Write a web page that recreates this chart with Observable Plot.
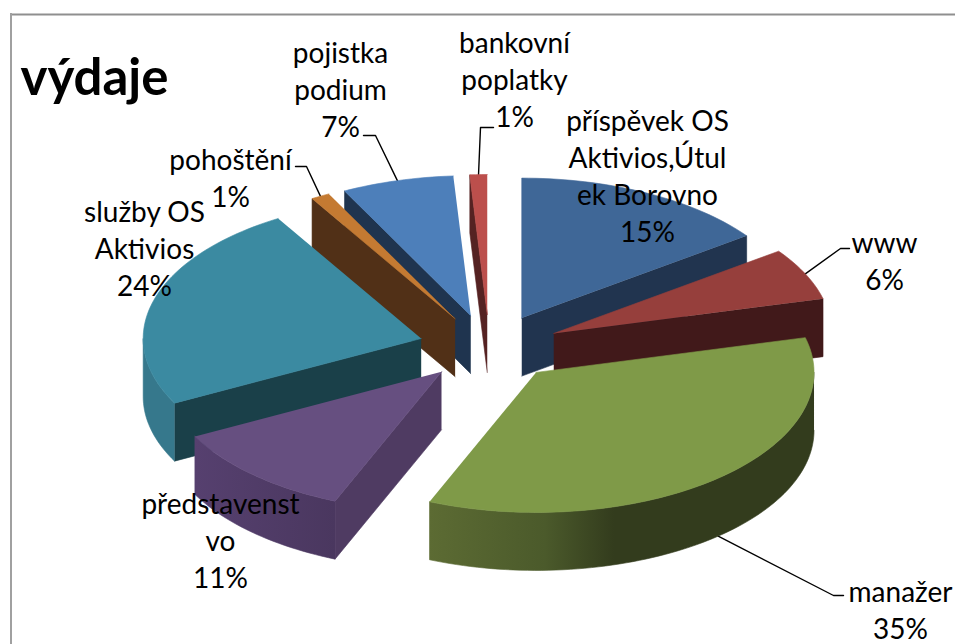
<!DOCTYPE html>
<html>
<head>
<meta charset="utf-8">
<script src="https://cdn.jsdelivr.net/npm/d3@7"></script>
<script src="https://cdn.jsdelivr.net/npm/@observablehq/plot@0.6"></script>
<style>html,body{margin:0;padding:0;background:#fff}svg{display:block}</style>
</head>
<body>
<div id="chart"></div>
<script>
// Data, clockwise from 12 o'clock
const categories = ["příspěvek OS\nAktivios,Útul\nek Borovno","www","manažer","představenst\nvo","služby OS\nAktivios","pohoštění","pojistka\npodium","bankovní\npoplatky"];
const shares = [15, 6, 35.25, 11.11, 24.03, 1.1, 6.5, 1];
// Styles
const topColors = ["#3f6797","#963f3c","#7f9a48","#664f80","#3b8aa1","#c47a32","#4d7fba","#bc4f4c"];
const wallColors = ["#21344f","#41191a","#333c1e","#4f3b62","#1a4049","#513017","#1f344f","#552222"];
const rimColors = ["#21344f","#41191a","url(#rimGreen)","url(#rimPurple)","#36788c","#513017","#1f344f","#552222"];
const drawOrder = [7, 0, 1, 6, 5, 4, 3, 2];
// Layout
const labelX = [647, 884, 900, 220, 144, 230, 340, 514];
const labelY = [174, 259, 608, 539, 247, 176, 88, 78];
const leaderElbows = [null, [[849,248],[840,248]], [[843,595],[833,595]], null, null, [[295,166],[306,166]], [[363,135],[375,135]], [[493,127],[480,127]]];
const pie = {cx: 489, cy: 347, rx: 278, ry: 140, ex: 71, ey: 33, depth: 58};
const fontFamily = "Lato, 'Noto Sans', sans-serif";

const total = d3.sum(shares);
const rad = Math.PI / 180;
let cum = 0;
const slices = shares.map((s, i) => {
  const a0 = cum / total * 360; cum += s; const a1 = cum / total * 360;
  const mid = (a0 + a1) / 2;
  return {i, a0, a1, mid,
    tipX: pie.cx + pie.ex * Math.sin(mid * rad),
    tipY: pie.cy - pie.ey * Math.cos(mid * rad)};
});
const rim = (s, a, dz = 0) => ({
  x: s.tipX + pie.rx * Math.sin(a * rad),
  y: s.tipY - pie.ry * Math.cos(a * rad) + dz
});
const arc = (s, a0, a1, dz = 0) => {
  const n = Math.max(2, Math.ceil(Math.abs(a1 - a0) / 1.5));
  return d3.range(n + 1).map(k => rim(s, a0 + (a1 - a0) * k / n, dz));
};
const polygon = (pts, color) => Plot.line(pts, {x: "x", y: "y", fill: color, stroke: color, strokeWidth: 0.6});

const marks = [
  () => {
    const defs = d3.create("svg:defs");
    const grad = (id, stops) => {
      const g = defs.append("linearGradient").attr("id", id).attr("x1", 0).attr("x2", 1).attr("y1", 0).attr("y2", 0);
      stops.forEach(([o, c]) => g.append("stop").attr("offset", o).attr("stop-color", c));
    };
    grad("rimGreen", [[0, "#5c6b33"], [0.3, "#4b5a2b"], [0.48, "#333c1d"], [1, "#333c1d"]]);
    grad("rimPurple", [[0, "#56406f"], [1, "#4a375f"]]);
    return defs.node();
  },
  Plot.ruleY([14], {x1: 10, x2: 955, stroke: "#8f8f8f", strokeWidth: 2}),
  Plot.ruleX([10.5], {y1: 13, y2: 644, stroke: "#a0a0a0", strokeWidth: 2})
];

// Leader lines lie under the slices, rising from the rim at each slice's middle
categories.forEach((c, i) => {
  if (!leaderElbows[i]) return;
  const s = slices[i];
  const front = s.mid > 90 && s.mid < 270;
  const end = rim(s, s.mid, front ? pie.depth : 0);
  const pts = [...leaderElbows[i].map(([x, y]) => ({x, y})), end];
  marks.push(Plot.line(pts, {x: "x", y: "y", stroke: "#000", strokeWidth: 1.4}));
});

// Slices, back to front: walls first, then the top face
for (const i of drawOrder) {
  const s = slices[i];
  const tip = {x: s.tipX, y: s.tipY};
  const tipLow = {x: s.tipX, y: s.tipY + pie.depth};
  const radialWall = a => [tip, rim(s, a), rim(s, a, pie.depth), tipLow];
  if (s.a1 > 0 && s.a1 < 180) marks.push(polygon(radialWall(s.a1), wallColors[i]));
  if (s.a0 > 180 && s.a0 < 360) marks.push(polygon(radialWall(s.a0), wallColors[i]));
  const from = Math.max(s.a0, 90), to = Math.min(s.a1, 270);
  if (to > from) marks.push(polygon([...arc(s, from, to), ...arc(s, to, from, pie.depth)], rimColors[i]));
  marks.push(polygon([tip, ...arc(s, s.a0, s.a1)], topColors[i]));
}

// Labels and title
const labels = categories.map((c, i) => ({text: `${c}\n${Math.round(shares[i])}%`, x: labelX[i], y: labelY[i]}));
marks.push(Plot.text(labels, {x: "x", y: "y", text: "text", fontSize: 28, lineHeight: 1.32, lineAnchor: "middle", textAnchor: "middle", fill: "#000", fontFamily}));
marks.push(Plot.text(["výdaje"], {x: 20, y: 78, text: d => d, fontSize: 51, fontWeight: 700, textAnchor: "start", lineAnchor: "middle", fill: "#000", fontFamily}));

const chart = Plot.plot({
  width: 955, height: 644,
  marginTop: 0, marginRight: 0, marginBottom: 0, marginLeft: 0,
  x: {domain: [0, 955], axis: null},
  y: {domain: [644, 0], axis: null},
  style: {background: "#fff"},
  marks
});
document.getElementById("chart").append(chart);
</script>
</body>
</html>
